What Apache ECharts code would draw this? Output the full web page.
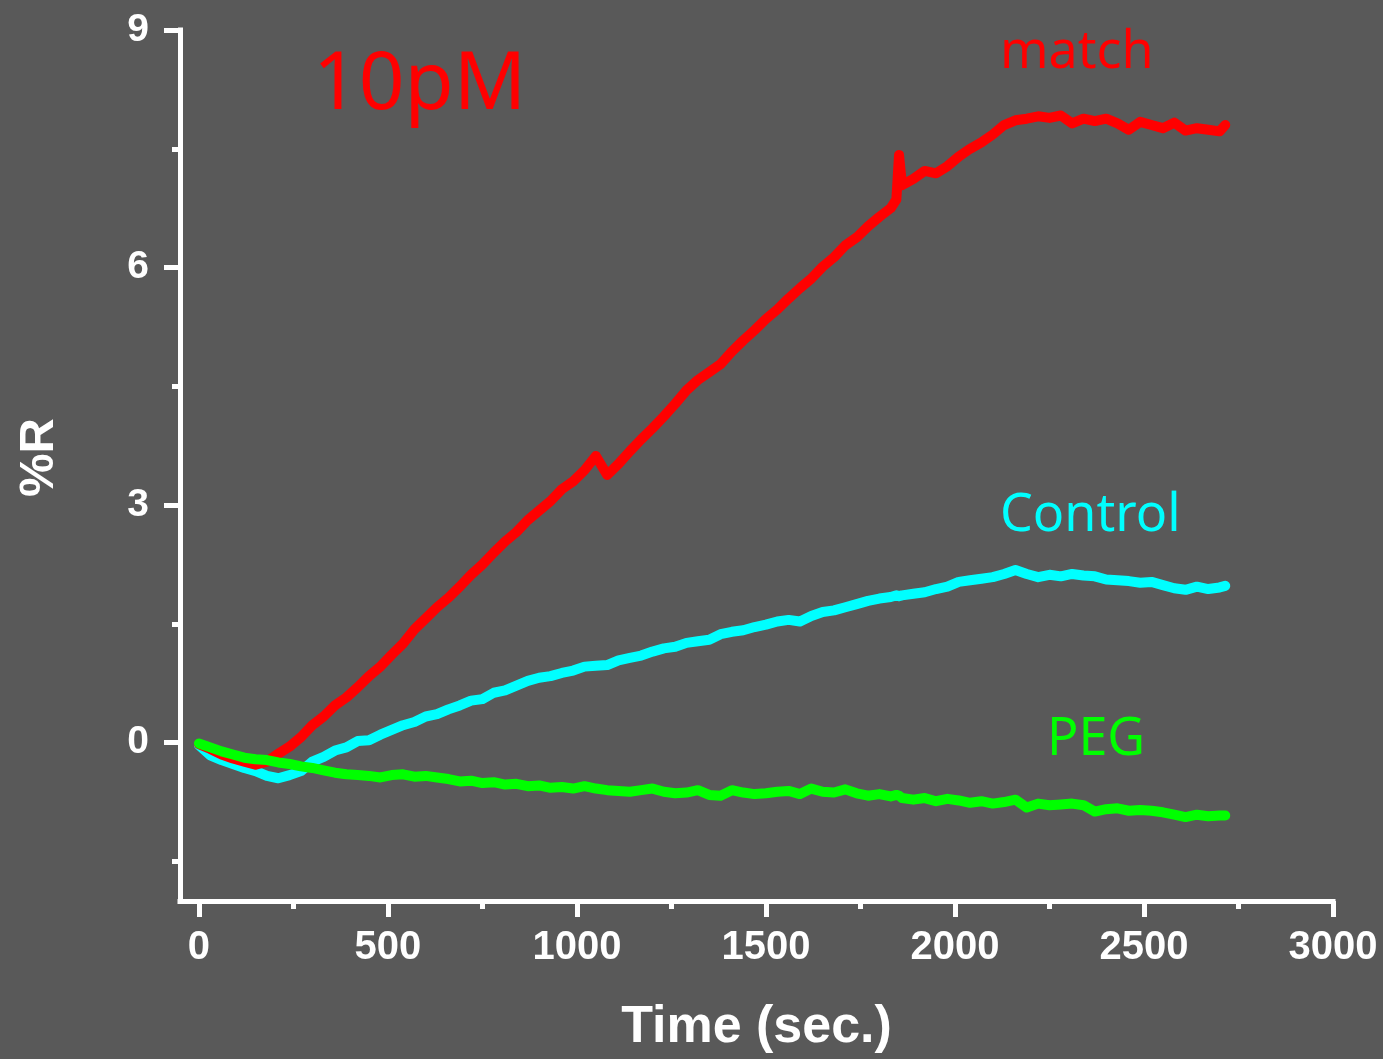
<!DOCTYPE html>
<html>
<head>
<meta charset="utf-8">
<title>%R vs Time</title>
<script src="https://cdn.jsdelivr.net/npm/echarts@6/dist/echarts.min.js"></script>
<style>
  html, body { margin: 0; padding: 0; background: #595959; }
  #chart { width: 1383px; height: 1059px; }
</style>
</head>
<body>
<div id="chart"></div>
<script>
// Sampling times (s)
const timeSec = [
  0, 30, 60, 90, 120, 150, 180, 210, 240, 270,
  300, 330, 360, 390, 420, 450, 480, 510, 540, 570,
  600, 630, 660, 690, 720, 750, 780, 810, 840, 870,
  900, 930, 960, 990, 1020, 1050, 1080, 1110, 1140, 1170,
  1200, 1230, 1260, 1290, 1320, 1350, 1380, 1410, 1440, 1470,
  1500, 1530, 1560, 1590, 1620, 1650, 1680, 1710, 1740, 1770,
  1800, 1830, 1845, 1852, 1860, 1890, 1920, 1950, 1980, 2010,
  2040, 2070, 2100, 2130, 2160, 2190, 2220, 2250, 2280, 2310,
  2340, 2370, 2400, 2430, 2460, 2490, 2520, 2550, 2580, 2610,
  2640, 2670, 2700, 2715
];

// %R for the matched target
const matchR = [
  -0.02, -0.08, -0.15, -0.20, -0.24, -0.28, -0.24, -0.14, -0.05, 0.07,
  0.22, 0.33, 0.47, 0.57, 0.70, 0.84, 0.96, 1.11, 1.25, 1.43,
  1.57, 1.71, 1.83, 1.97, 2.12, 2.25, 2.40, 2.54, 2.66, 2.81,
  2.93, 3.05, 3.20, 3.30, 3.44, 3.62, 3.38, 3.52, 3.68, 3.83,
  3.97, 4.12, 4.28, 4.45, 4.58, 4.68, 4.78, 4.94, 5.08, 5.21,
  5.35, 5.47, 5.61, 5.74, 5.86, 6.01, 6.13, 6.28, 6.38, 6.52,
  6.64, 6.75, 6.86, 7.42, 7.04, 7.12, 7.22, 7.19, 7.28, 7.40,
  7.50, 7.58, 7.68, 7.80, 7.86, 7.88, 7.91, 7.89, 7.92, 7.82,
  7.88, 7.85, 7.88, 7.82, 7.74, 7.84, 7.80, 7.76, 7.83, 7.73,
  7.76, 7.74, 7.72, 7.80
];

// %R for the control
const controlR = [
  -0.03, -0.16, -0.22, -0.27, -0.32, -0.36, -0.42, -0.45, -0.41, -0.36,
  -0.24, -0.18, -0.10, -0.06, 0.02, 0.03, 0.10, 0.16, 0.22, 0.26,
  0.33, 0.36, 0.42, 0.47, 0.53, 0.55, 0.63, 0.66, 0.72, 0.78,
  0.82, 0.84, 0.88, 0.91, 0.96, 0.97, 0.98, 1.04, 1.07, 1.10,
  1.15, 1.19, 1.21, 1.26, 1.28, 1.30, 1.37, 1.40, 1.42, 1.46,
  1.49, 1.53, 1.55, 1.53, 1.60, 1.65, 1.67, 1.71, 1.75, 1.79,
  1.82, 1.84, 1.86, 1.85, 1.86, 1.88, 1.90, 1.94, 1.97, 2.03,
  2.05, 2.07, 2.09, 2.13, 2.18, 2.13, 2.09, 2.12, 2.10, 2.13,
  2.11, 2.10, 2.06, 2.05, 2.04, 2.02, 2.03, 1.99, 1.95, 1.93,
  1.97, 1.94, 1.96, 1.98
];

// %R for the PEG surface
const pegR = [
  -0.01, -0.06, -0.11, -0.15, -0.19, -0.21, -0.22, -0.25, -0.27, -0.30,
  -0.32, -0.35, -0.38, -0.40, -0.41, -0.42, -0.44, -0.41, -0.40, -0.43,
  -0.42, -0.44, -0.46, -0.49, -0.48, -0.51, -0.50, -0.53, -0.52, -0.55,
  -0.54, -0.57, -0.56, -0.58, -0.55, -0.58, -0.60, -0.61, -0.62, -0.60,
  -0.58, -0.62, -0.64, -0.63, -0.60, -0.66, -0.67, -0.60, -0.63, -0.65,
  -0.64, -0.62, -0.61, -0.65, -0.58, -0.62, -0.63, -0.59, -0.64, -0.67,
  -0.65, -0.68, -0.66, -0.67, -0.70, -0.72, -0.70, -0.74, -0.71, -0.73,
  -0.76, -0.74, -0.77, -0.75, -0.72, -0.82, -0.77, -0.79, -0.78, -0.77,
  -0.79, -0.87, -0.84, -0.83, -0.86, -0.85, -0.86, -0.88, -0.91, -0.94,
  -0.91, -0.93, -0.92, -0.92
];

// Axis ticks and labels
const xMajorTicks = [0, 500, 1000, 1500, 2000, 2500, 3000];
const xMinorTicks = [250, 750, 1250, 1750, 2250, 2750];
const yMajorTicks = [0, 3, 6, 9];
const yMinorTicks = [-1.5, 1.5, 4.5, 7.5];

const seriesNames = ['Control', 'match', 'PEG'];
const seriesColors = ['#00ffff', '#ff0000', '#00ff00'];
const seriesValues = [controlR, matchR, pegR];

const WHITE = '#ffffff';
const axisFont = 'Liberation Sans, Arial, sans-serif';
const noteFont = '"Noto Sans", sans-serif';

const chart = echarts.init(document.getElementById('chart'), null, { renderer: 'canvas' });

function xAxisDef(ticks, len, main) {
  return {
    type: 'value', min: -50, max: 3000, position: 'bottom',
    splitLine: { show: false },
    axisLine: { show: main, onZero: false, lineStyle: { color: WHITE, width: 5, cap: 'square' } },
    axisTick: { show: true, length: len, customValues: ticks, lineStyle: { color: WHITE, width: 5 } },
    axisLabel: main ? {
      show: true, customValues: ticks, color: WHITE, fontSize: 40, fontWeight: 'bold',
      fontFamily: axisFont, margin: 27, formatter: v => String(v)
    } : { show: false },
    name: main ? 'Time (sec.)' : '',
    nameLocation: 'middle', nameGap: 101,
    nameTextStyle: { color: WHITE, fontSize: 52, fontWeight: 'bold', fontFamily: axisFont }
  };
}

function yAxisDef(ticks, len, main) {
  return {
    type: 'value', min: -2, max: 9, position: 'left',
    splitLine: { show: false },
    axisLine: { show: main, onZero: false, lineStyle: { color: WHITE, width: 5, cap: 'square' } },
    axisTick: { show: true, length: len, customValues: ticks, lineStyle: { color: WHITE, width: 5 } },
    axisLabel: main ? {
      show: true, customValues: ticks, color: WHITE, fontSize: 39, fontWeight: 'bold',
      fontFamily: axisFont, margin: 31, formatter: v => String(v)
    } : { show: false },
    name: main ? '%R' : '',
    nameLocation: 'middle', nameGap: 116,
    nameTextStyle: { color: WHITE, fontSize: 49, fontWeight: 'bold', fontFamily: axisFont, padding: [0, 0, 0, 16] }
  };
}

const option = {
  backgroundColor: '#595959',
  animation: false,
  grid: { left: 180, right: 50, top: 30, bottom: 156, containLabel: false },
  xAxis: [xAxisDef(xMajorTicks, 16, true), xAxisDef(xMinorTicks, 8, false)],
  yAxis: [yAxisDef(yMajorTicks, 16, true), yAxisDef(yMinorTicks, 8, false)],
  series: seriesNames.map((name, k) => ({
    name: name,
    type: 'line',
    xAxisIndex: 0,
    yAxisIndex: 0,
    showSymbol: false,
    symbol: 'none',
    smooth: false,
    lineStyle: { color: seriesColors[k], width: 10, cap: 'round', join: 'round' },
    data: timeSec.map((t, i) => [t, seriesValues[k][i]])
  })),
  graphic: [
    { type: 'text', x: 313, y: 86, style: { text: '10pM', fill: '#ff0000', font: '80px ' + noteFont, verticalAlign: 'middle' } },
    { type: 'text', x: 1000, y: 53, style: { text: 'match', fill: '#ff0000', font: '52px ' + noteFont, verticalAlign: 'middle' } },
    { type: 'text', x: 1000, y: 516, style: { text: 'Control', fill: '#00ffff', font: '52px ' + noteFont, verticalAlign: 'middle' } },
    { type: 'text', x: 1047, y: 740, style: { text: 'PEG', fill: '#00ff00', font: '52px ' + noteFont, verticalAlign: 'middle' } }
  ]
};

chart.setOption(option);
</script>
</body>
</html>
